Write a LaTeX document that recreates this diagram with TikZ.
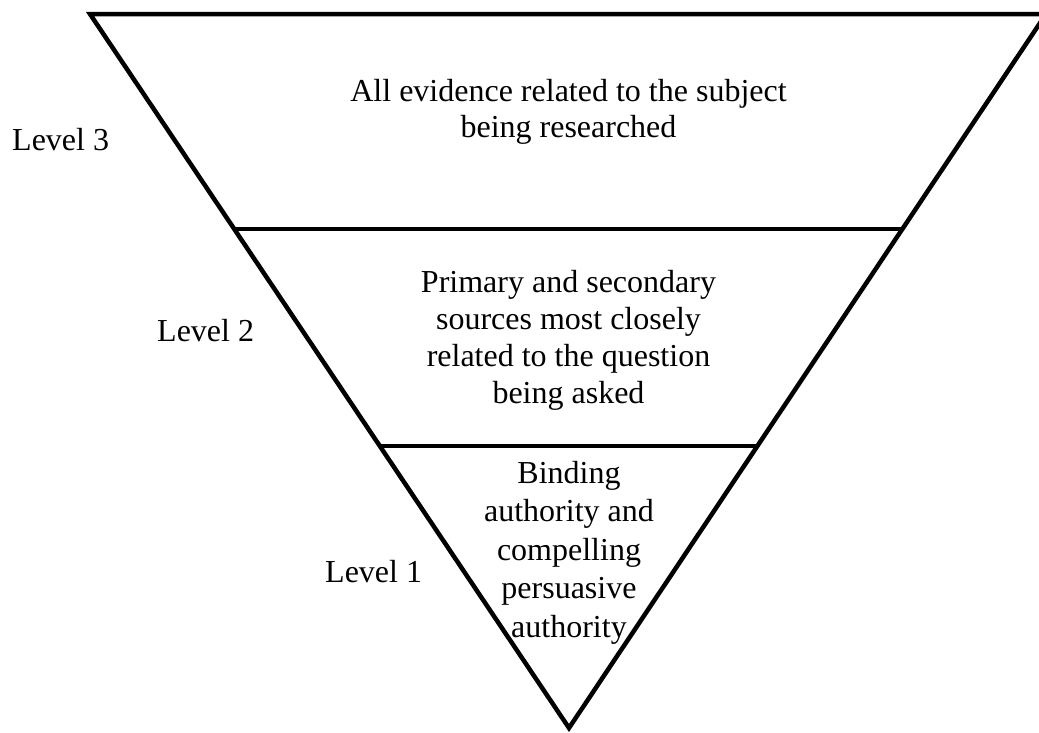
\documentclass[tikz,border=0pt]{standalone}
\usepackage{fontspec}
\setmainfont{Liberation Serif}
\usetikzlibrary{calc}
\tikzset{
  edge/.style={line width=4.5pt, line join=miter, miter limit=20},
  label/.style={inner sep=0pt, font={\fontsize{32}{37}\selectfont}},
  block/.style={inner sep=0pt, align=center, anchor=north},
}
\begin{document}
\begin{tikzpicture}[x=1pt,y=-1pt]
  \useasboundingbox (0,0) rectangle (1039,732);
  \clip (0,0) rectangle (1039,732);
  \coordinate (tl) at (90,14);
  \coordinate (tr) at (1046,14);
  \coordinate (ap) at (569,728);
  \draw[edge] (tl) -- (tr) -- (ap) -- cycle;
  \coordinate (l2) at ($(tl)!0.3011!(ap)$);
  \coordinate (r2) at ($(tr)!0.3011!(ap)$);
  \coordinate (l1) at ($(tl)!0.6050!(ap)$);
  \coordinate (r1) at ($(tr)!0.6050!(ap)$);
  \draw[edge] (l2) -- (r2);
  \draw[edge] (l1) -- (r1);
  \node[label, block, font={\fontsize{32}{36}\selectfont}] (t3) at (568.5,79)
    {All evidence related to the subject\\being researched};
  \node[label, block, font={\fontsize{32}{37}\selectfont}] (t2) at (568.5,270)
    {Primary and secondary\\sources most closely\\related to the question\\being asked};
  \node[label, block, font={\fontsize{32}{38.5}\selectfont}] (t1) at (569,461)
    {Binding\\authority and\\compelling\\persuasive\\authority};
  \node[label, anchor=base west] (lv3) at (12,150) {Level 3};
  \node[label, anchor=base west] (lv2) at (157,341) {Level 2};
  \node[label, anchor=base west] (lv1) at (325,582) {Level 1};
\end{tikzpicture}
\end{document}
